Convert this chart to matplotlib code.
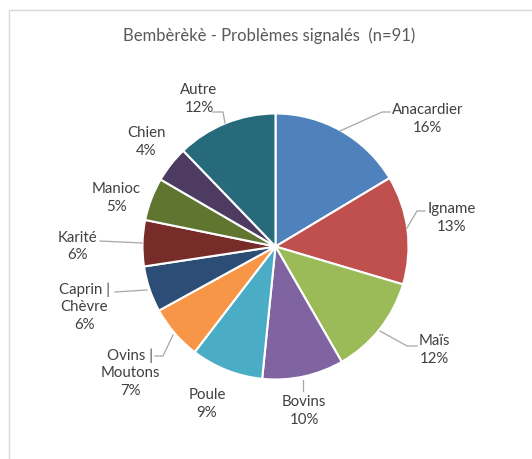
import numpy as np
import matplotlib
matplotlib.use("Agg")
import matplotlib.pyplot as plt

# data (share of mentions, %)
categories = ['Anacardier', 'Igname', 'Maïs', 'Bovins', 'Poule',
              'Ovins |\nMoutons', 'Caprin |\nChèvre', 'Karité', 'Manioc',
              'Chien', 'Autre']
shares = [16.4, 13.2, 12.1, 9.9, 8.8, 6.6, 5.6, 5.6, 5.2, 4.4, 12.2]
title = 'Bembèrèkè - Problèmes signalés  (n=91)'

colors = ['#4F81BD', '#C0504D', '#9BBB59', '#8064A2', '#4BACC6', '#F79646',
          '#2C4D75', '#772C2A', '#5F7530', '#4D3B62', '#276A7C']

W, H = 532, 460
CENTER = (275.5, 247.5)
RADIUS = 133

# label block centres and leader lines, in picture pixels (y down)
label_pos = [(427.5, 119), (452, 218), (434, 350), (304, 411), (207, 404),
             (130, 373), (84, 307), (77, 246.5), (116, 198), (146, 142),
             (199, 99)]
leaders = [[(390, 113), (382, 113), (340, 132)],
           [(425, 212), (417, 212), (407, 229)],
           [(417, 347), (407, 347), (380, 332)],
           [(303, 392), (303, 381)],
           None,
           [(155, 357), (163, 357), (173, 336)],
           [(115, 293), (147, 291)],
           [(100, 242), (142, 244)],
           None,
           None,
           [(213, 113), (223, 113), (225, 124)]]


def flip(x, y):
    '''
    Converts picture pixel coords (y down) to the axes coords (y up).
    '''
    return x, H - y


fig = plt.figure(figsize=(W / 100, H / 100), dpi=100)
ax = fig.add_axes([0, 0, 1, 1])

ax.pie(shares, colors=colors, startangle=90, counterclock=False,
       center=flip(*CENTER), radius=RADIUS, frame=True,
       wedgeprops=dict(edgecolor='white', linewidth=1.5))
ax.set_xlim(0, W)
ax.set_ylim(0, H)
ax.axis('off')

total = sum(shares)
for name, val, pos, lead in zip(categories, shares, label_pos, leaders):
    pct = '{:.0f}%'.format(val / total * 100)
    ax.text(*flip(*pos), name + '\n' + pct, ha='center', va='center',
            fontsize=10.8, family='Lato', color='#404040', linespacing=1.3)
    if lead:
        xs, ys = zip(*[flip(x, y) for x, y in lead])
        ax.plot(xs, ys, color='#A6A6A6', linewidth=0.9)

ax.text(*flip(269.5, 36), title, ha='center', va='center',
        fontsize=12, family='Lato', color='#595959')

# chart area border (only top and left visible in the crop)
ax.plot([8.5, 8.5, W], [0, H - 11, H - 11], color='#D9D9D9', linewidth=1)

fig.savefig('out.png', dpi=100)
